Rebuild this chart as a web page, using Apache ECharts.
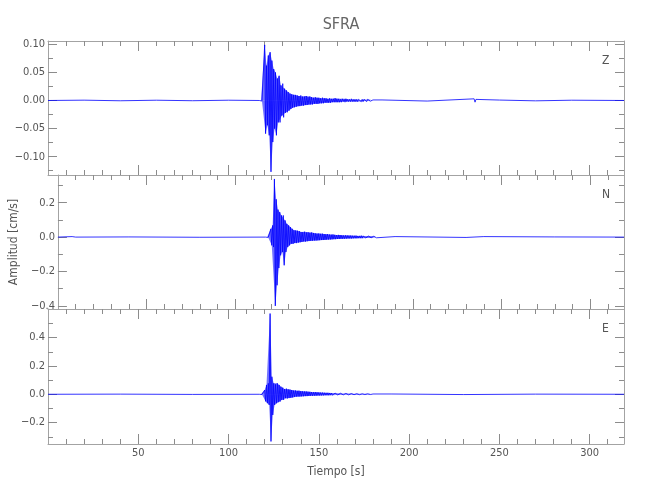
<!DOCTYPE html>
<html><head><meta charset="utf-8">
<script src="https://cdn.jsdelivr.net/npm/echarts@6/dist/echarts.min.js"></script>
<style>html,body{margin:0;padding:0;background:#fff}#c{width:650px;height:500px}</style>
</head><body><div id="c"></div>
<script>
// ---------- data ----------
const titleText = 'SFRA';
const componentNames = ['Z', 'N', 'E'];
const timeRange = [0, 319];              // s
const eventStart = 118;                  // s, first sample of the event envelopes (1 s per value)

// positive / negative peak per second
const zHi = [0.001,0.002,0.099,0.062,0.080,0.086,0.071,0.056,0.050,0.039,0.044,0.027,0.030,0.021,0.018,0.015,0.012,0.011,0.010,0.010,0.009,0.008,0.009,0.007,0.007,0.008,0.006,0.007,0.006,0.005,0.006,0.005,0.005,0.004,0.005,0.004,0.004,0.003,0.004,0.003,0.003,0.004,0.003,0.003,0.002,0.003,0.002,0.003,0.002,0.002,0.003,0.002,0.002,0.002,0.002,0.001,0.002,0.002,0.001,0.002,0.001,0.002,0.001];
const zLo = [-0.001,-0.002,-0.059,-0.044,-0.062,-0.127,-0.074,-0.050,-0.062,-0.039,-0.039,-0.027,-0.030,-0.022,-0.021,-0.018,-0.015,-0.013,-0.012,-0.011,-0.010,-0.010,-0.009,-0.009,-0.008,-0.008,-0.007,-0.007,-0.007,-0.006,-0.006,-0.006,-0.005,-0.005,-0.005,-0.004,-0.004,-0.004,-0.004,-0.003,-0.003,-0.003,-0.003,-0.003,-0.003,-0.002,-0.003,-0.002,-0.002,-0.002,-0.002,-0.002,-0.002,-0.002,-0.001,-0.002,-0.002,-0.001,-0.002,-0.001,-0.001,-0.002,-0.001];
const nHi = [0.002,0.003,0.048,0.068,0.338,0.220,0.160,0.145,0.126,0.126,0.097,0.077,0.068,0.058,0.048,0.040,0.039,0.037,0.035,0.030,0.029,0.031,0.027,0.028,0.025,0.027,0.024,0.022,0.020,0.021,0.019,0.020,0.018,0.017,0.018,0.015,0.014,0.015,0.013,0.012,0.013,0.012,0.011,0.010,0.011,0.010,0.009,0.009,0.008,0.008,0.009,0.007,0.007,0.008,0.006,0.007,0.006,0.006,0.005,0.006,0.005,0.005,0.004];
const nLo = [-0.002,-0.003,-0.048,-0.058,-0.400,-0.280,-0.180,-0.106,-0.087,-0.164,-0.087,-0.058,-0.048,-0.039,-0.040,-0.035,-0.035,-0.032,-0.030,-0.028,-0.025,-0.026,-0.024,-0.023,-0.022,-0.021,-0.020,-0.020,-0.019,-0.018,-0.017,-0.017,-0.016,-0.015,-0.014,-0.014,-0.013,-0.012,-0.012,-0.011,-0.011,-0.010,-0.010,-0.009,-0.009,-0.008,-0.008,-0.008,-0.007,-0.007,-0.007,-0.006,-0.006,-0.006,-0.005,-0.005,-0.005,-0.005,-0.004,-0.004,-0.004,-0.004,-0.004];
const eHi = [0.002,0.004,0.030,0.066,0.077,0.570,0.124,0.077,0.070,0.077,0.066,0.054,0.047,0.037,0.040,0.035,0.033,0.030,0.026,0.027,0.024,0.025,0.022,0.021,0.020,0.020,0.018,0.017,0.016,0.015,0.016,0.014,0.013,0.012,0.012,0.011,0.010,0.010,0.009,0.009,0.008,0.008,0.008,0.007,0.007,0.006,0.006,0.006,0.005,0.005,0.005,0.004,0.004,0.004,0.004,0.004,0.003,0.003,0.003,0.003,0.003,0.003,0.002];
const eLo = [-0.002,-0.004,-0.050,-0.063,-0.075,-0.333,-0.146,-0.075,-0.063,-0.056,-0.052,-0.040,-0.040,-0.028,-0.030,-0.027,-0.025,-0.022,-0.018,-0.017,-0.016,-0.016,-0.015,-0.014,-0.013,-0.013,-0.012,-0.011,-0.011,-0.010,-0.010,-0.009,-0.009,-0.008,-0.008,-0.007,-0.007,-0.007,-0.006,-0.006,-0.006,-0.005,-0.005,-0.005,-0.005,-0.004,-0.004,-0.004,-0.004,-0.003,-0.003,-0.003,-0.003,-0.003,-0.003,-0.002,-0.002,-0.002,-0.002,-0.002,-0.002,-0.002,-0.002];

// background noise outside the event window
const zNoiseTime = [0, 20, 40, 60, 80, 100, 117, 185, 210, 236, 236.5, 237, 237.5, 250, 270, 290, 319];
const zNoiseAmp  = [0, 0.0006, -0.0005, 0.0005, -0.0004, 0.0005, 0, 0.001, -0.001, 0.003, -0.003, 0.002, -0.001, 0.0008, -0.0006, 0.0005, 0];
const nNoiseTime = [0, 8, 9, 10, 40, 80, 117, 190, 230, 240, 241, 280, 319];
const nNoiseAmp  = [0, 0.003, -0.002, 0, 0.001, -0.001, 0, 0.003, -0.002, 0.003, -0.002, 0.001, 0];
const eNoiseTime = [0, 40, 80, 117, 190, 230, 270, 319];
const eNoiseAmp  = [0, 0.001, -0.001, 0, 0.002, -0.002, 0.001, 0];

// axis ranges and ticks
const zRange = [-0.1326, 0.1059];
const nRange = [-0.418, 0.361];
const eRange = [-0.351, 0.602];
const zTicks = [-0.10, -0.05, 0.00, 0.05, 0.10];
const zMinor = [-0.125, -0.075, -0.025, 0.025, 0.075];
const nTicks = [-0.4, -0.2, 0.0, 0.2];
const nMinor = [-0.3, -0.1, 0.1, 0.3];
const eTicks = [-0.2, 0.0, 0.2, 0.4];
const eMinor = [-0.3, -0.1, 0.1, 0.3, 0.5];
const zDecimals = 2, nDecimals = 1, eDecimals = 1;
const xTicks = [50, 100, 150, 200, 250, 300];
const xMinor = [10, 20, 30, 40, 60, 70, 80, 90, 110, 120, 130, 140, 160, 170, 180, 190, 210, 220, 230, 240, 260, 270, 280, 290, 310];
const xName = 'Tiempo [s]';
const yName = 'Amplitud [cm/s]';

// ---------- chart ----------
const FONT = "'Liberation Sans Narrow', 'DejaVu Sans Condensed', 'DejaVu Sans', sans-serif";
const GRAY = '#a3a3a3';
const TICK = '#8c8c8c';
const TXT = '#555555';
const BLUE = '#0000ff';

function trace(hi, lo, nt, na) {
  const n = Math.min(hi.length, lo.length);
  const endT = eventStart + n;
  const pts = [];
  for (let i = 0; i < nt.length; i++) if (nt[i] < eventStart) pts.push([nt[i], na[i]]);
  for (let i = 0; i < n; i++) {
    pts.push([eventStart + i, hi[i]]);
    pts.push([eventStart + i + 0.5, lo[i]]);
  }
  for (let i = 0; i < nt.length; i++) if (nt[i] >= endT) pts.push([nt[i], na[i]]);
  pts.sort((a, b) => a[0] - b[0]);
  return pts;
}
function envelope(vals, shift) {
  return vals.map((v, i) => [eventStart + i + shift, v]);
}

const panels = [
  { hi: zHi, lo: zLo, nt: zNoiseTime, na: zNoiseAmp, range: zRange, ticks: zTicks, minor: zMinor, dec: zDecimals },
  { hi: nHi, lo: nLo, nt: nNoiseTime, na: nNoiseAmp, range: nRange, ticks: nTicks, minor: nMinor, dec: nDecimals },
  { hi: eHi, lo: eLo, nt: eNoiseTime, na: eNoiseAmp, range: eRange, ticks: eTicks, minor: eMinor, dec: eDecimals }
];
const gridTops = [41, 175, 309];
const gridHeights = [134, 134, 135];

const grid = [], xAxis = [], yAxis = [], series = [], graphic = [];
const fmtY = (dec) => (v) => { const s = Math.abs(v).toFixed(dec); return (v < -1e-9 ? '\u2212' : '') + s; };

panels.forEach((p, g) => {
  grid.push({ left: 48, right: 26, top: gridTops[g], height: gridHeights[g], containLabel: false });
  const isBottom = g === panels.length - 1;
  const xBase = { gridIndex: g, type: 'value', min: timeRange[0], max: timeRange[1], splitLine: { show: false } };
  const xi = xAxis.length;
  xAxis.push(Object.assign({}, xBase, {
    position: 'bottom',
    axisLine: { show: true, onZero: false, lineStyle: { color: GRAY, width: 1 } },
    axisTick: { show: true, inside: true, length: 10, lineStyle: { color: TICK }, customValues: xTicks },
    axisLabel: { show: isBottom, customValues: xTicks, margin: 4, color: TXT, fontSize: 11, fontFamily: FONT },
    name: isBottom ? xName : '', nameLocation: 'middle', nameGap: 22,
    nameTextStyle: { color: TXT, fontSize: 12, fontFamily: FONT }
  }));
  xAxis.push(Object.assign({}, xBase, {
    position: 'bottom', axisLine: { show: false, onZero: false },
    axisTick: { show: true, inside: true, length: 5, lineStyle: { color: TICK }, customValues: xMinor },
    axisLabel: { show: false }
  }));
  xAxis.push(Object.assign({}, xBase, {
    position: 'top',
    axisLine: { show: true, onZero: false, lineStyle: { color: GRAY, width: 1 } },
    axisTick: { show: true, inside: true, length: 10, lineStyle: { color: TICK }, customValues: xTicks },
    axisLabel: { show: false }
  }));
  xAxis.push(Object.assign({}, xBase, {
    position: 'top', axisLine: { show: false, onZero: false },
    axisTick: { show: true, inside: true, length: 5, lineStyle: { color: TICK }, customValues: xMinor },
    axisLabel: { show: false }
  }));

  const yBase = { gridIndex: g, type: 'value', min: p.range[0], max: p.range[1], splitLine: { show: false } };
  const yi = yAxis.length;
  yAxis.push(Object.assign({}, yBase, {
    position: 'left',
    axisLine: { show: true, onZero: false, lineStyle: { color: GRAY, width: 1 } },
    axisTick: { show: true, inside: true, length: 9, lineStyle: { color: TICK }, customValues: p.ticks },
    axisLabel: { show: true, customValues: p.ticks, margin: 3, color: TXT, fontSize: 11, fontFamily: FONT, formatter: fmtY(p.dec) },
    name: g === 1 ? yName : '', nameLocation: 'middle', nameGap: 34, nameRotate: 90,
    nameTextStyle: { color: TXT, fontSize: 12, fontFamily: FONT }
  }));
  yAxis.push(Object.assign({}, yBase, {
    position: 'left', axisLine: { show: false, onZero: false },
    axisTick: { show: true, inside: true, length: 5, lineStyle: { color: TICK }, customValues: p.minor },
    axisLabel: { show: false }
  }));
  yAxis.push(Object.assign({}, yBase, {
    position: 'right',
    axisLine: { show: true, onZero: false, lineStyle: { color: GRAY, width: 1 } },
    axisTick: { show: true, inside: true, length: 9, lineStyle: { color: TICK }, customValues: p.ticks },
    axisLabel: { show: false }
  }));
  yAxis.push(Object.assign({}, yBase, {
    position: 'right', axisLine: { show: false, onZero: false },
    axisTick: { show: true, inside: true, length: 5, lineStyle: { color: TICK }, customValues: p.minor },
    axisLabel: { show: false }
  }));

  // filled envelopes (dense oscillation band)
  [[p.hi, 0], [p.lo, 0.5]].forEach(([vals, shift]) => {
    series.push({
      type: 'line', xAxisIndex: xi, yAxisIndex: yi,
      data: envelope(vals, shift),
      showSymbol: false, symbol: 'none',
      lineStyle: { width: 0 },
      areaStyle: { color: BLUE, opacity: 0.55, origin: 0 },
      silent: true, animation: false, z: 2
    });
  });
  series.push({
    type: 'line', xAxisIndex: xi, yAxisIndex: yi,
    data: trace(p.hi, p.lo, p.nt, p.na),
    showSymbol: false, symbol: 'none',
    lineStyle: { color: BLUE, width: 0.8 },
    silent: true, animation: false, z: 3
  });

  graphic.push({
    type: 'text', left: 602, top: gridTops[g] + 14,
    style: { text: componentNames[g], fill: TXT, font: '12px ' + FONT }
  });
});

const chart = echarts.init(document.getElementById('c'), null, { renderer: 'canvas' });
chart.setOption({
  backgroundColor: '#ffffff',
  animation: false,
  title: { text: titleText, left: 336, textAlign: 'center', top: 12, textStyle: { color: '#666666', fontSize: 16, fontWeight: 'normal', fontFamily: FONT } },
  grid, xAxis, yAxis, series, graphic
});
</script>
</body></html>
